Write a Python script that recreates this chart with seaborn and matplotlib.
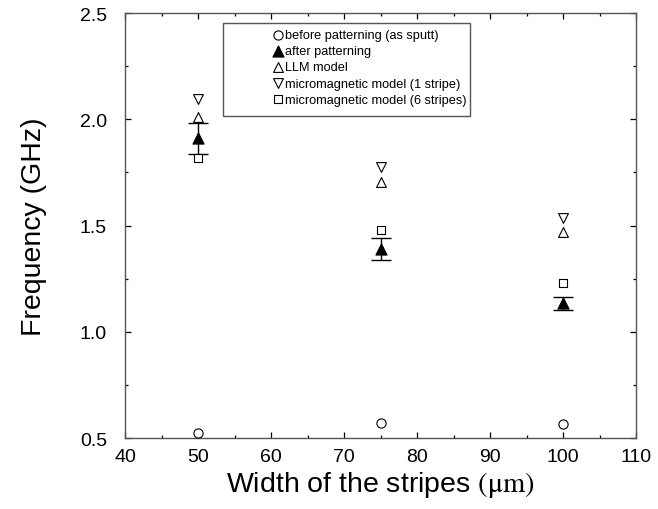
import matplotlib
matplotlib.use("Agg")
import matplotlib.pyplot as plt
import seaborn as sns
import pandas as pd
from matplotlib.patches import Rectangle
from matplotlib.ticker import MultipleLocator, FormatStrFormatter

# ---- data ----
widths = [50, 75, 100]
before_patterning = [0.523, 0.570, 0.566]
after_patterning = [1.912, 1.390, 1.134]
after_err = [0.073, 0.051, 0.031]
llm_model = [2.010, 1.705, 1.469]
micromag_1 = [2.095, 1.775, 1.535]
micromag_6 = [1.820, 1.479, 1.229]

labels = ["before patterning (as sputt)", "after patterning", "LLM model",
          "micromagnetic model (1 stripe)", "micromagnetic model (6 stripes)"]

sns.set_theme(style="ticks")
plt.rcParams["font.family"] = ["Liberation Sans", "DejaVu Sans"]
plt.rcParams["mathtext.fontset"] = "stix"
for key in ["text.color", "axes.labelcolor", "xtick.color", "ytick.color"]:
    plt.rcParams[key] = "black"

fig = plt.figure(figsize=(6.58, 5.10), dpi=100)
ax = fig.add_axes([0.190, 0.139, 0.7766, 0.8333])

df = pd.DataFrame({"w": widths, "before": before_patterning, "after": after_patterning,
                   "llm": llm_model, "mm1": micromag_1, "mm6": micromag_6})

ax.errorbar(widths, after_patterning, yerr=after_err, fmt="none", ecolor="black",
            elinewidth=1.0, capsize=7, capthick=1.0, zorder=2)

sns.scatterplot(data=df, x="w", y="before", marker="o", s=44, facecolor="white",
                edgecolor="black", linewidth=0.8, ax=ax, label=labels[0], zorder=3)
sns.scatterplot(data=df, x="w", y="after", marker="^", s=64, color="black",
                edgecolor="black", linewidth=0.8, ax=ax, label=labels[1], zorder=3)
sns.scatterplot(data=df, x="w", y="llm", marker="^", s=50, facecolor="white",
                edgecolor="black", linewidth=0.8, ax=ax, label=labels[2], zorder=3)
sns.scatterplot(data=df, x="w", y="mm1", marker="v", s=50, facecolor="white",
                edgecolor="black", linewidth=0.8, ax=ax, label=labels[3], zorder=3)
sns.scatterplot(data=df, x="w", y="mm6", marker="s", s=34, facecolor="white",
                edgecolor="black", linewidth=0.8, ax=ax, label=labels[4], zorder=3)

ax.set_xlim(40, 110)
ax.set_ylim(0.5, 2.5)
ax.xaxis.set_major_locator(MultipleLocator(10))
ax.xaxis.set_minor_locator(MultipleLocator(5))
ax.yaxis.set_major_locator(MultipleLocator(0.5))
ax.yaxis.set_minor_locator(MultipleLocator(0.25))
ax.yaxis.set_major_formatter(FormatStrFormatter("%.1f"))
ax.tick_params(which="both", direction="in", top=True, right=True, colors="black",
               labelsize=14)
ax.tick_params(axis="x", which="major", pad=7)
ax.tick_params(axis="y", which="major", pad=13)
ax.tick_params(which="major", length=4.3, width=0.9)
ax.tick_params(which="minor", length=2.2, width=0.9)
for sp in ax.spines.values():
    sp.set_color("#555555")
    sp.set_linewidth(1.0)

ax.set_xlabel(r"Width of the stripes $(\mathrm{\mu m})$", fontsize=20.5, labelpad=3)
ax.set_ylabel("Frequency (GHz)", fontsize=20.5, labelpad=24)

leg = ax.legend(loc="upper left", bbox_to_anchor=(0.290, 0.962), frameon=False,
                fontsize=9.2, handlelength=0.75, handletextpad=0.15, labelspacing=0.32,
                borderpad=0, borderaxespad=0, scatterpoints=1)
ax.add_patch(Rectangle((0.1918, 0.7576), 0.483, 0.219, transform=ax.transAxes,
                       fill=False, edgecolor="#555555", linewidth=1.0, zorder=4))

fig.savefig("out.png", dpi=100)
